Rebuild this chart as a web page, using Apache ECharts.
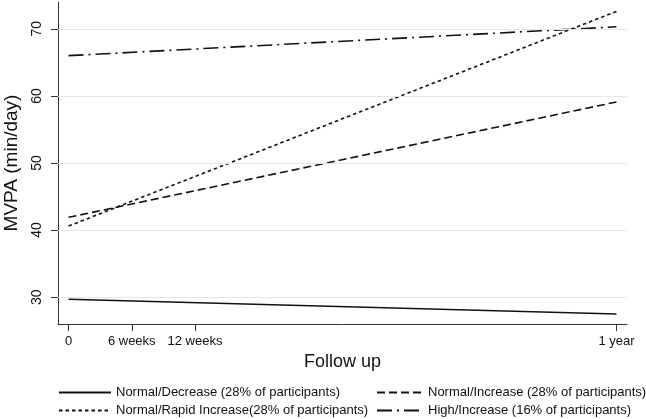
<!DOCTYPE html>
<html>
<head>
<meta charset="utf-8">
<script src="https://cdn.jsdelivr.net/npm/echarts@6/dist/echarts.min.js"></script>
<style>html,body{margin:0;padding:0;background:#fff;}#c{width:646px;height:419px;}</style>
</head>
<body>
<div id="c"></div>
<script>
// Data
const weeks = [0, 52];
const normalDecrease = [29.7, 27.5];
const normalIncrease = [41.9, 59.1];
const rapidIncrease = [40.6, 72.6];
const highIncrease = [66.0, 70.3];
const xTickValues = [0, 6, 12, 52];
const xTickLabels = ['0', '6 weeks', '12 weeks', '1 year'];
const yTickValues = [30, 40, 50, 60, 70];
const seriesNames = [
  'Normal/Decrease (28% of participants)',
  'Normal/Increase (28% of participants)',
  'Normal/Rapid Increase(28% of participants)',
  'High/Increase (16% of participants)'
];

const pairs = vals => weeks.map((w, i) => [w, vals[i]]);
const font = 'Liberation Sans, Arial, Helvetica, sans-serif';
const ink = '#111';

function lineSeries(name, vals, dash) {
  return {
    name: name, type: 'line', data: pairs(vals), symbol: 'none', z: 3,
    lineStyle: { color: ink, width: 1.6, type: dash },
    itemStyle: { color: ink }
  };
}

const legendBase = {
  orient: 'vertical', top: 386, height: 40, padding: 0,
  itemHeight: 14, itemGap: 5,
  textStyle: { fontFamily: font, fontSize: 13, color: ink },
  itemStyle: { color: 'rgba(0,0,0,0)', borderWidth: 0, opacity: 0 },
  selectedMode: false
};

const chart = echarts.init(document.getElementById('c'), null, { renderer: 'canvas' });
chart.setOption({
  animation: false,
  backgroundColor: '#fff',
  grid: { left: 58, right: 19, top: 2, bottom: 95, containLabel: false, outerBoundsMode: 'none' },
  xAxis: {
    type: 'value', min: -1, max: 53,
    name: 'Follow up', nameLocation: 'middle', nameGap: 26,
    nameTextStyle: { fontFamily: font, fontSize: 18, color: ink },
    axisLine: { show: true, onZero: false, lineStyle: { color: '#333', width: 1 } },
    axisTick: { show: true, length: 7, customValues: xTickValues, lineStyle: { color: '#333' } },
    axisLabel: {
      customValues: xTickValues, margin: 11,
      fontFamily: font, fontSize: 13, color: ink,
      formatter: v => xTickLabels[xTickValues.indexOf(v)]
    },
    splitLine: { show: false }
  },
  yAxis: {
    type: 'value', min: 26, max: 74,
    name: 'MVPA (min/day)', nameLocation: 'middle', nameGap: 37,
    nameTextStyle: { fontFamily: font, fontSize: 19, color: ink },
    axisLine: { show: true, onZero: false, lineStyle: { color: '#333', width: 1 } },
    axisTick: { show: true, length: 7, customValues: yTickValues, lineStyle: { color: '#333' } },
    axisLabel: {
      customValues: yTickValues, rotate: 90, margin: 14,
      fontFamily: font, fontSize: 14, color: ink
    },
    splitLine: { show: false }
  },
  legend: [
    Object.assign({}, legendBase, {
      left: 58, itemWidth: 52,
      data: [seriesNames[0], seriesNames[2]]
    }),
    Object.assign({}, legendBase, {
      left: 376, itemWidth: 46,
      data: [seriesNames[1], seriesNames[3]]
    })
  ],
  series: [
    {
      name: 'grid', type: 'line', data: [], z: 1, silent: true,
      markLine: {
        silent: true, symbol: 'none', label: { show: false },
        lineStyle: { color: '#e6e6e6', width: 1, type: 'solid' },
        data: yTickValues.map(v => ({ yAxis: v }))
      }
    },
    lineSeries(seriesNames[0], normalDecrease, 'solid'),
    lineSeries(seriesNames[1], normalIncrease, [8, 4]),
    lineSeries(seriesNames[2], rapidIncrease, [3.5, 3]),
    lineSeries(seriesNames[3], highIncrease, [15, 5, 2, 5])
  ]
});
</script>
</body>
</html>
